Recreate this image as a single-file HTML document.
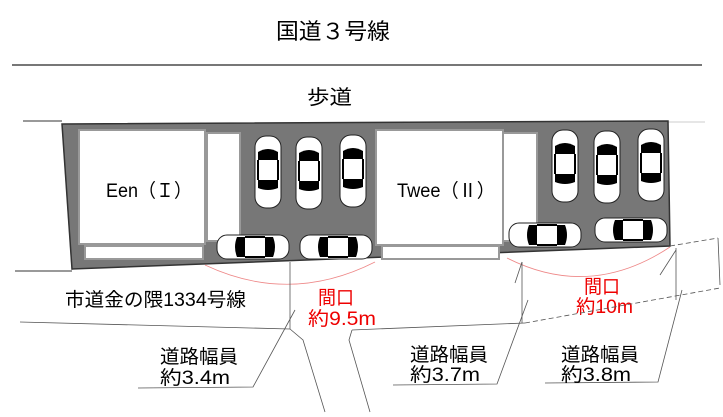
<!DOCTYPE html>
<html><head><meta charset="utf-8"><style>
body{margin:0;background:#fff}
svg{display:block}
text{font-family:"Liberation Sans","Noto Sans CJK JP",sans-serif}
</style></head><body>
<svg width="723" height="417" viewBox="0 0 723 417" xmlns="http://www.w3.org/2000/svg">
<defs>
<g id="cv">
<rect x="-13" y="0" width="26" height="72" rx="11" fill="#fff" stroke="#222" stroke-width="1"/>
<path d="M-10 16 Q0 10 10 16 L10 24 L-10 24Z" fill="#000"/>
<path d="M-10 44 L10 44 L10 52 Q0 56 -10 52Z" fill="#000"/>
<line x1="-10" y1="24" x2="-10" y2="44" stroke="#000" stroke-width="2"/>
<line x1="10" y1="24" x2="10" y2="44" stroke="#000" stroke-width="2"/>
</g>
<g id="ch">
<rect x="0" y="-12" width="72" height="24" rx="10" fill="#fff" stroke="#222" stroke-width="1"/>
<path d="M20 -10 Q16 0 20 10 L28 10 L28 -10Z" fill="#000"/>
<path d="M48 -10 L56 -10 Q60 0 56 10 L48 10Z" fill="#000"/>
<line x1="28" y1="-10" x2="48" y2="-10" stroke="#000" stroke-width="2"/>
<line x1="28" y1="10" x2="48" y2="10" stroke="#000" stroke-width="2"/>
</g>
</defs>
<text x="276" y="39" font-size="22" textLength="114" lengthAdjust="spacingAndGlyphs">国道３号線</text>
<line x1="12" y1="65" x2="702" y2="65" stroke="#777" stroke-width="2"/>
<text x="307" y="104" font-size="20" textLength="45" lengthAdjust="spacingAndGlyphs">歩道</text>
<line x1="23" y1="121" x2="62" y2="121" stroke="#333"/>
<line x1="668" y1="122" x2="705" y2="122" stroke="#ccc"/>
<line x1="15" y1="271" x2="72" y2="271" stroke="#333"/>
<line x1="62" y1="124" x2="72" y2="270" stroke="#999"/>
<polygon points="62,124 668,121 670,246 72,269" fill="#777" stroke="#333" stroke-width="1.5"/>
<rect x="79" y="130" width="126" height="114" fill="#fff" stroke="#999" stroke-width="2"/>
<rect x="207" y="133" width="33" height="108" fill="#fff" stroke="#999" stroke-width="2"/>
<rect x="85" y="246" width="118" height="13" fill="#fff" stroke="#999" stroke-width="2"/>
<text x="106" y="197" font-size="19" textLength="86" lengthAdjust="spacingAndGlyphs">Een（Ｉ）</text>
<rect x="376" y="130" width="127" height="115" fill="#fff" stroke="#999" stroke-width="2"/>
<rect x="503" y="133" width="34" height="108" fill="#fff" stroke="#999" stroke-width="2"/>
<rect x="382" y="246" width="117" height="13" fill="#fff" stroke="#999" stroke-width="2"/>
<text x="397" y="197" font-size="19" textLength="98" lengthAdjust="spacingAndGlyphs">Twee（Ⅱ）</text>
<use href="#cv" x="268" y="136"/><use href="#cv" x="309" y="137"/><use href="#cv" x="353" y="135"/>
<use href="#cv" x="565" y="130"/><use href="#cv" x="607" y="131"/><use href="#cv" x="651" y="129"/>
<use href="#ch" x="217" y="247"/><use href="#ch" x="300" y="247"/>
<use href="#ch" x="509" y="235"/><use href="#ch" x="595" y="230"/>
<path d="M205 265 Q290 305 375 262" fill="none" stroke="#e88" stroke-width="0.8"/>
<path d="M507 258 Q590 300 670 247" fill="none" stroke="#e88" stroke-width="0.8"/>
<text x="318" y="304" font-size="19" fill="#e00" textLength="36" lengthAdjust="spacingAndGlyphs">間口</text>
<text x="308" y="325" font-size="19" fill="#e00" textLength="68" lengthAdjust="spacingAndGlyphs">約9.5m</text>
<text x="584" y="293" font-size="19" fill="#e00" textLength="36" lengthAdjust="spacingAndGlyphs">間口</text>
<text x="576" y="313" font-size="19" fill="#e00" textLength="57" lengthAdjust="spacingAndGlyphs">約10m</text>
<text x="65" y="306" font-size="19" textLength="181" lengthAdjust="spacingAndGlyphs">市道金の隈1334号線</text>
<g stroke="#555" stroke-width="0.8" fill="none">
<line x1="20" y1="322" x2="290" y2="329"/>
<path d="M290 329 L303 340 L325 412"/>
<path d="M352 330 L349 340 L370 412"/>
<line x1="352" y1="330" x2="525" y2="323"/>
<path d="M525 323 L720 288" stroke-dasharray="5,3"/>
<path d="M670 246 L718 238" stroke-dasharray="5,3"/>
<line x1="718" y1="238" x2="720" y2="285"/>
<line x1="290" y1="262" x2="290" y2="329"/>
<line x1="522" y1="262" x2="522" y2="323"/>
<line x1="676" y1="248" x2="676" y2="300"/>
<path d="M138 388 L253 387 L295 310"/>
<path d="M393 385 L497 384 L528 300"/>
<path d="M545 383 L658 382 L682 290"/>
<line x1="515" y1="283" x2="522" y2="262"/>
<line x1="660" y1="275" x2="676" y2="250"/>
</g>
<text x="160" y="363" font-size="19" textLength="78" lengthAdjust="spacingAndGlyphs">道路幅員</text>
<text x="160" y="384" font-size="19" textLength="70" lengthAdjust="spacingAndGlyphs">約3.4m</text>
<text x="410" y="361" font-size="19" textLength="78" lengthAdjust="spacingAndGlyphs">道路幅員</text>
<text x="410" y="381" font-size="19" textLength="70" lengthAdjust="spacingAndGlyphs">約3.7m</text>
<text x="561" y="361" font-size="19" textLength="78" lengthAdjust="spacingAndGlyphs">道路幅員</text>
<text x="561" y="381" font-size="19" textLength="70" lengthAdjust="spacingAndGlyphs">約3.8m</text>
</svg>
</body></html>
